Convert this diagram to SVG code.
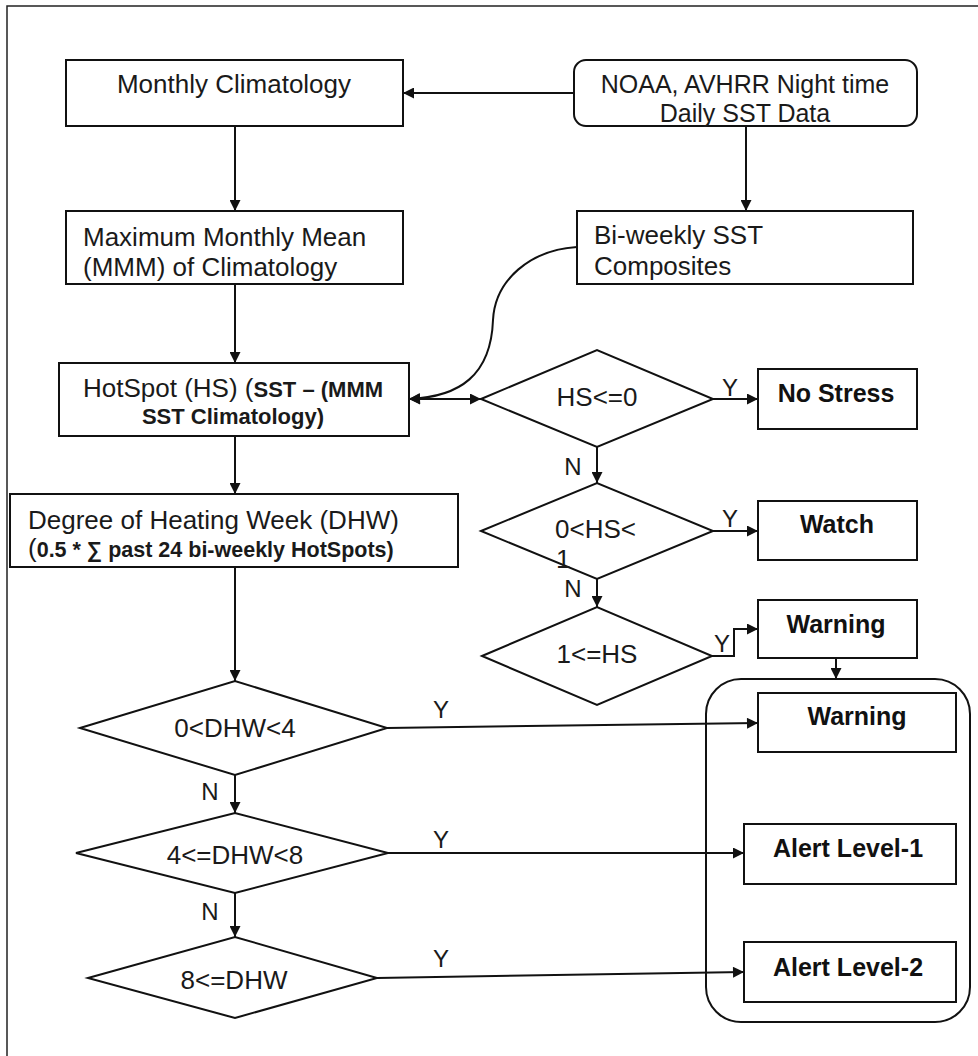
<svg xmlns="http://www.w3.org/2000/svg" width="978" height="1056" viewBox="0 0 978 1056">
<style>
.box{fill:#fff;stroke:#111;stroke-width:2}
.frame{fill:none;stroke:#222;stroke-width:1.5}
.con{fill:none;stroke:#111;stroke-width:2}
.t{font-family:"Liberation Sans",Arial,sans-serif;font-size:26px;fill:#1a1a1a}
.b{font-family:"Liberation Sans",Arial,sans-serif;font-size:25px;font-weight:bold;fill:#111}
.sb{font-weight:bold;font-size:22px}
.lbl{font-family:"Liberation Sans",Arial,sans-serif;font-size:24px;fill:#1a1a1a}
.c{text-anchor:middle}
</style>
<defs>
<marker id="ah" viewBox="0 0 10 10" refX="10" refY="5" markerWidth="12" markerHeight="11" markerUnits="userSpaceOnUse" orient="auto-start-reverse">
<path d="M0,0 L10,5 L0,10 Z" fill="#111"/>
</marker>
</defs>
<rect width="978" height="1056" fill="#fff"/>
<path class="frame" d="M7,1056 L7,6 L978,6"/>

<g id="connectors">
<path class="con" d="M575,93 L403,93" marker-end="url(#ah)"/>
<path class="con" d="M235,126 L235,211" marker-end="url(#ah)"/>
<path class="con" d="M746,126 L746,211" marker-end="url(#ah)"/>
<path class="con" d="M235,284 L235,363" marker-end="url(#ah)"/>
<path class="con" d="M577,247 C530,250 495,280 493,320 C491,375 460,397 409,399" marker-end="url(#ah)"/>
<path class="con" d="M409,399 L481,399" marker-start="url(#ah)" marker-end="url(#ah)"/>
<path class="con" d="M713,399 L758,399" marker-end="url(#ah)"/>
<path class="con" d="M597,447 L597,483" marker-end="url(#ah)"/>
<path class="con" d="M713,531 L758,531" marker-end="url(#ah)"/>
<path class="con" d="M597,579 L597,607" marker-end="url(#ah)"/>
<path class="con" d="M712,656 L734,656 L734,629 L758,629" marker-end="url(#ah)"/>
<path class="con" d="M836,658 L836,679" marker-end="url(#ah)"/>
<path class="con" d="M235,436 L235,494" marker-end="url(#ah)"/>
<path class="con" d="M235,567 L235,681" marker-end="url(#ah)"/>
<path class="con" d="M387,728 L758,723" marker-end="url(#ah)"/>
<path class="con" d="M235,775 L235,813" marker-end="url(#ah)"/>
<path class="con" d="M388,853 L744,853" marker-end="url(#ah)"/>
<path class="con" d="M235,893 L235,937" marker-end="url(#ah)"/>
<path class="con" d="M377,978 L744,972" marker-end="url(#ah)"/>
<text class="lbl c" x="730" y="396">Y</text>
<text class="lbl c" x="573" y="475">N</text>
<text class="lbl c" x="730" y="527">Y</text>
<text class="lbl c" x="573" y="597">N</text>
<text class="lbl c" x="722" y="652">Y</text>
<text class="lbl c" x="441" y="718">Y</text>
<text class="lbl c" x="210" y="800">N</text>
<text class="lbl c" x="441" y="848">Y</text>
<text class="lbl c" x="210" y="920">N</text>
<text class="lbl c" x="441" y="967">Y</text>
</g>

<g id="monthly">
<rect class="box" x="66" y="60" width="337" height="66"/>
<text class="t c" x="234" y="93">Monthly Climatology</text>
</g>
<g id="noaa">
<rect class="box" x="574" y="60" width="343" height="66" rx="12"/>
<text class="t c" x="745" y="93" style="font-size:25px">NOAA, AVHRR Night time</text>
<text class="t c" x="745" y="122" style="font-size:25px">Daily SST Data</text>
</g>
<g id="mmm">
<rect class="box" x="66" y="211" width="337" height="73"/>
<text class="t" x="83" y="246">Maximum Monthly Mean</text>
<text class="t" x="83" y="276">(MMM) of Climatology</text>
</g>
<g id="biweekly">
<rect class="box" x="577" y="211" width="336" height="73"/>
<text class="t" x="594" y="244">Bi-weekly SST</text>
<text class="t" x="594" y="275">Composites</text>
</g>
<g id="hotspot">
<rect class="box" x="59" y="363" width="350" height="73"/>
<text class="t" x="83" y="397">HotSpot (HS) (<tspan class="sb">SST – (MMM</tspan></text>
<text class="t c sb" x="233" y="424">SST Climatology)</text>
</g>
<g id="dhw">
<rect class="box" x="10" y="494" width="448" height="73"/>
<text class="t" x="28" y="529">Degree of Heating Week (DHW)</text>
<text class="t" x="28" y="557">(<tspan class="sb" style="font-size:21.5px">0.5 * ∑ past 24 bi-weekly HotSpots)</tspan></text>
</g>
<g id="d-hs0">
<polygon class="box" points="481,399 597,350 713,399 597,447"/>
<text class="t c" x="597" y="406">HS&lt;=0</text>
</g>
<g id="d-hs01">
<polygon class="box" points="481,531 597,483 713,531 597,579"/>
<text class="t" x="555" y="538">0&lt;HS&lt;</text>
<text class="t" x="556" y="568">1</text>
</g>
<g id="d-hs1">
<polygon class="box" points="482,656 597,607 712,656 597,705"/>
<text class="t c" x="597" y="663">1&lt;=HS</text>
</g>
<g id="nostress">
<rect class="box" x="758" y="369" width="159" height="60"/>
<text class="b c" x="836" y="402">No Stress</text>
</g>
<g id="watch">
<rect class="box" x="758" y="501" width="159" height="59"/>
<text class="b c" x="837" y="533">Watch</text>
</g>
<g id="warning1">
<rect class="box" x="758" y="600" width="159" height="58"/>
<text class="b c" x="836" y="633">Warning</text>
</g>
<g id="alertgroup">
<rect x="706" y="679" width="264" height="343" rx="35" fill="none" stroke="#111" stroke-width="2"/>
</g>
<g id="warning2">
<rect class="box" x="758" y="693" width="198" height="59"/>
<text class="b c" x="857" y="725">Warning</text>
</g>
<g id="alert1">
<rect class="box" x="744" y="824" width="212" height="60"/>
<text class="b c" x="848" y="857">Alert Level-1</text>
</g>
<g id="alert2">
<rect class="box" x="744" y="942" width="212" height="60"/>
<text class="b c" x="848" y="976">Alert Level-2</text>
</g>
<g id="d-dhw4">
<polygon class="box" points="80,728 235,681 387,728 235,775"/>
<text class="t c" x="235" y="737">0&lt;DHW&lt;4</text>
</g>
<g id="d-dhw8">
<polygon class="box" points="76,853 235,813 388,853 235,893"/>
<text class="t c" x="235" y="864">4&lt;=DHW&lt;8</text>
</g>
<g id="d-dhw">
<polygon class="box" points="88,978 235,937 377,978 235,1018"/>
<text class="t c" x="234" y="989">8&lt;=DHW</text>
</g>
</svg>
